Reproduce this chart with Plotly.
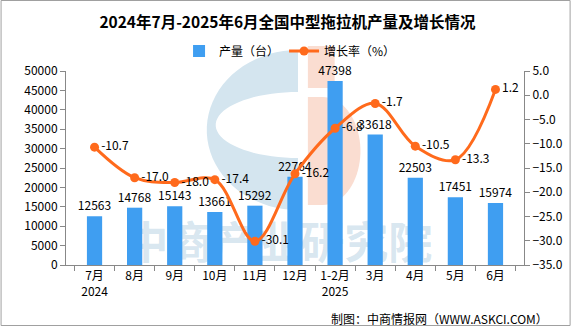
import numpy as np
import plotly.graph_objects as go

months = ["7月<br>2024", "8月", "9月", "10月", "11月", "12月", "1-2月<br>2025", "3月", "4月", "5月", "6月"]
production = [12563, 14768, 15143, 13661, 15292, 22764, 47398, 33618, 22503, 17451, 15974]
growth = [-10.7, -17.0, -18.0, -17.4, -30.1, -16.2, -6.8, -1.7, -10.5, -13.3, 1.2]

W, H = 575, 326
L, R, T, B = 66, 47, 71, 61
PW, PH = W - L - R, H - T - B
FONT = "Noto Sans CJK SC, Noto Sans, sans-serif"


def px(x):
    return (x - L) / PW


def py(y):
    return (H - B - y) / PH


def half_ellipse(cx, cy, rx, ry, side, n=40):
    th = np.linspace(-np.pi / 2, np.pi / 2, n)
    xs = cx + side * rx * np.cos(th)
    ys = cy + ry * np.sin(th)
    return list(zip(xs, ys))


def path_from(points):
    return "M " + " L ".join(f"{px(x):.4f},{py(y):.4f}" for x, y in points) + " Z"


outer = half_ellipse(300, 130, 92, 80, -1)
inner = half_ellipse(300, 125, 83, 33, -1)
c_path = path_from(outer) + " " + path_from(inner)
d_pts = [(310, 97)] + half_ellipse(325, 151, 38, 54, 1) + [(310, 205)]
d_path = path_from(d_pts)

fig = go.Figure()
fig.add_trace(go.Bar(
    x=months, y=production, name="产量（台）",
    marker=dict(color="#3F9EF1", line=dict(width=0)),
    width=0.38,
    text=[str(v) for v in production], textposition="outside",
    textfont=dict(color="#000000", size=12, family=FONT),
    constraintext="none",
    cliponaxis=False,
))
fig.add_trace(go.Scatter(
    x=months, y=growth, name="增长率（%）", yaxis="y2",
    mode="lines+markers+text",
    line=dict(color="#FF6A1C", width=3, shape="spline", smoothing=1.0),
    marker=dict(color="#FF6A1C", size=9),
    text=[f"{v:.1f}" for v in growth], textposition="middle right",
    textfont=dict(color="#000000", size=12, family=FONT),
    cliponaxis=False,
))

shapes = [
    dict(type="path", path=c_path, xref="paper", yref="paper", fillcolor="#D4E5EF",
         line=dict(width=0), layer="below", fillrule="evenodd"),
    dict(type="path", path=d_path, xref="paper", yref="paper", fillcolor="#FADDD1",
         line=dict(width=0), layer="below"),
    dict(type="rect", xref="paper", yref="paper", x0=px(310), x1=px(337), y0=py(88), y1=py(46),
         fillcolor="#FADDD1", line=dict(width=0), layer="below"),
    dict(type="rect", xref="paper", yref="paper", x0=px(115), x1=px(445), y0=py(268), y1=py(226),
         fillcolor="rgba(0,0,0,0)", line=dict(width=0), layer="below",
         label=dict(text="<b>中商产业研究院</b>", font=dict(size=44, color="rgba(120,170,205,0.3)", family=FONT),
                    textposition="middle center")),
    dict(type="rect", xref="paper", yref="paper", x0=px(0.5), x1=px(574.5), y0=py(325.5), y1=py(0.5),
         fillcolor="rgba(0,0,0,0)", line=dict(width=1, color="#A0A0A0"), layer="above"),
]

fig.update_layout(
    width=W, height=H,
    margin=dict(l=L, r=R, t=T, b=B),
    paper_bgcolor="white", plot_bgcolor="rgba(0,0,0,0)",
    font=dict(family=FONT, size=12, color="#000000"),
    title=dict(text="<b>2024年7月-2025年6月全国中型拖拉机产量及增长情况</b>",
               x=0.5, xanchor="center", y=1 - 23 / H, yanchor="middle",
               font=dict(size=15.5, color="#000000", family=FONT)),
    legend=dict(orientation="h", x=px(292), xanchor="center", y=py(51), yanchor="middle",
                font=dict(size=12, family=FONT), bgcolor="rgba(0,0,0,0)",
                itemwidth=30, traceorder="normal"),
    bargap=0.6,
    xaxis=dict(type="category", showline=True, linecolor="#888888", linewidth=1,
               ticks="outside", tickson="boundaries", ticklen=5, tickcolor="#888888",
               showgrid=False, tickfont=dict(size=12, family=FONT)),
    yaxis=dict(range=[0, 50000], dtick=5000, tickformat="d", showline=True, linecolor="#888888", linewidth=1,
               ticks="outside", ticklen=5, tickcolor="#888888", showgrid=False, zeroline=False,
               tickfont=dict(size=12, family=FONT)),
    yaxis2=dict(range=[-35, 5], dtick=5, tickformat=".1f", overlaying="y", side="right",
                showline=True, linecolor="#888888", linewidth=1, ticks="outside", ticklen=5,
                tickcolor="#888888", showgrid=False, zeroline=False,
                tickfont=dict(size=12, family=FONT)),
    shapes=shapes,
    annotations=[dict(text="制图：中商情报网（WWW.ASKCI.COM）", xref="paper", yref="paper",
                      x=px(554), y=py(318), xanchor="right", yanchor="middle", showarrow=False,
                      font=dict(size=12, color="#000000", family=FONT))],
)

fig.write_html("out.html")
